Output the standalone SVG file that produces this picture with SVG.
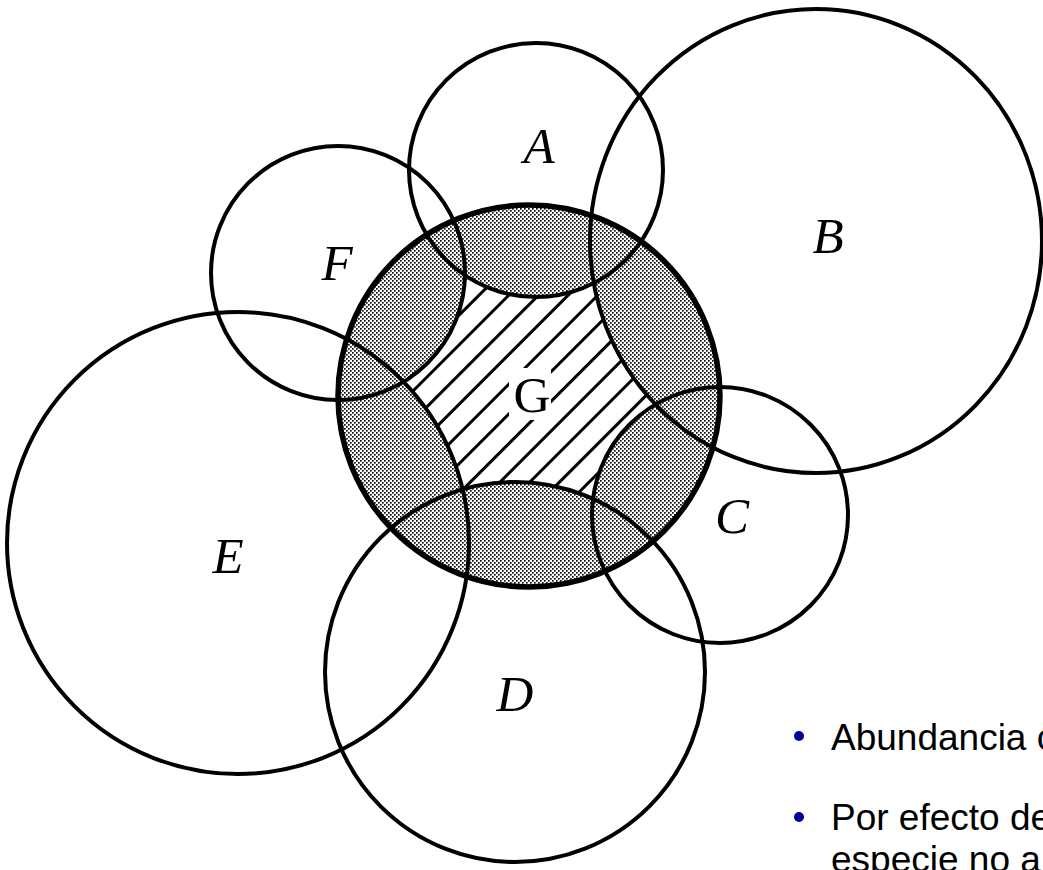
<svg xmlns="http://www.w3.org/2000/svg" width="1043" height="870" viewBox="0 0 1043 870">
  <style>
    .ring { fill: none; stroke: #000; stroke-width: 4; }
    .ringG { fill: none; stroke: #000; stroke-width: 5.5; }
    .lbl { font-family: "Liberation Serif", "Times New Roman", serif; font-style: italic; font-size: 51px; fill: #000; text-anchor: middle; }
    .lblG { font-family: "Liberation Serif", "Times New Roman", serif; font-size: 51px; fill: #000; text-anchor: middle; }
    .txt { font-family: "Liberation Sans", Arial, sans-serif; font-size: 37px; fill: #000; }
    .bul { fill: #00009A; }
  </style>
  <defs>
    <pattern id="stipple" patternUnits="userSpaceOnUse" width="4" height="4">
      <rect width="4" height="4" fill="#fff"/>
      <rect x="0" y="0" width="1.7" height="1.7" fill="#111"/>
      <rect x="2" y="2" width="1.7" height="1.7" fill="#111"/>
    </pattern>
    <pattern id="hatch" patternUnits="userSpaceOnUse" width="10" height="21" patternTransform="rotate(-45)">
      <rect width="10" height="21" fill="#fff"/>
      <rect x="0" y="0" width="10" height="3" fill="#000"/>
    </pattern>
    <mask id="hatchMask" maskUnits="userSpaceOnUse" x="0" y="0" width="1043" height="870">
      <rect width="1043" height="870" fill="#000"/>
      <circle cx="529" cy="396" r="191" fill="#fff"/>
      <circle cx="536" cy="170" r="127" fill="#000"/>
      <ellipse cx="816" cy="241" rx="226" ry="232" fill="#000"/>
      <circle cx="720" cy="515" r="128" fill="#000"/>
      <circle cx="515" cy="672" r="190" fill="#000"/>
      <circle cx="238" cy="543" r="231" fill="#000"/>
      <circle cx="338" cy="273" r="127" fill="#000"/>
    </mask>
  </defs>

  <rect width="1043" height="870" fill="#fff"/>

  <!-- shading of G -->
  <circle cx="529" cy="396" r="191" fill="url(#stipple)"/>
  <rect x="300" y="180" width="460" height="440" fill="url(#hatch)" mask="url(#hatchMask)"/>
  <rect x="509" y="368" width="42" height="52" fill="#fff"/>

  <g id="node-A">
    <circle class="ring" cx="536" cy="170" r="127"/>
    <text class="lbl" x="539" y="163">A</text>
  </g>
  <g id="node-B">
    <ellipse class="ring" cx="816" cy="241" rx="226" ry="232"/>
    <text class="lbl" x="828" y="253">B</text>
  </g>
  <g id="node-C">
    <circle class="ring" cx="720" cy="515" r="128"/>
    <text class="lbl" x="732" y="533">C</text>
  </g>
  <g id="node-D">
    <circle class="ring" cx="515" cy="672" r="190"/>
    <text class="lbl" x="515" y="711">D</text>
  </g>
  <g id="node-E">
    <circle class="ring" cx="238" cy="543" r="231"/>
    <text class="lbl" x="228" y="573">E</text>
  </g>
  <g id="node-F">
    <circle class="ring" cx="338" cy="273" r="127"/>
    <text class="lbl" x="337" y="280">F</text>
  </g>
  <g id="node-G">
    <circle class="ringG" cx="529" cy="396" r="191"/>
    <text class="lblG" x="532" y="412">G</text>
  </g>

  <g id="connectors"/>

  <g id="bullets">
    <circle class="bul" cx="799" cy="736" r="5"/>
    <text class="txt" x="831" y="750">Abundancia c</text>
    <circle class="bul" cx="799" cy="817" r="5"/>
    <text class="txt" x="831" y="830">Por efecto de</text>
    <text class="txt" x="831" y="872">especie no a</text>
  </g>
</svg>
